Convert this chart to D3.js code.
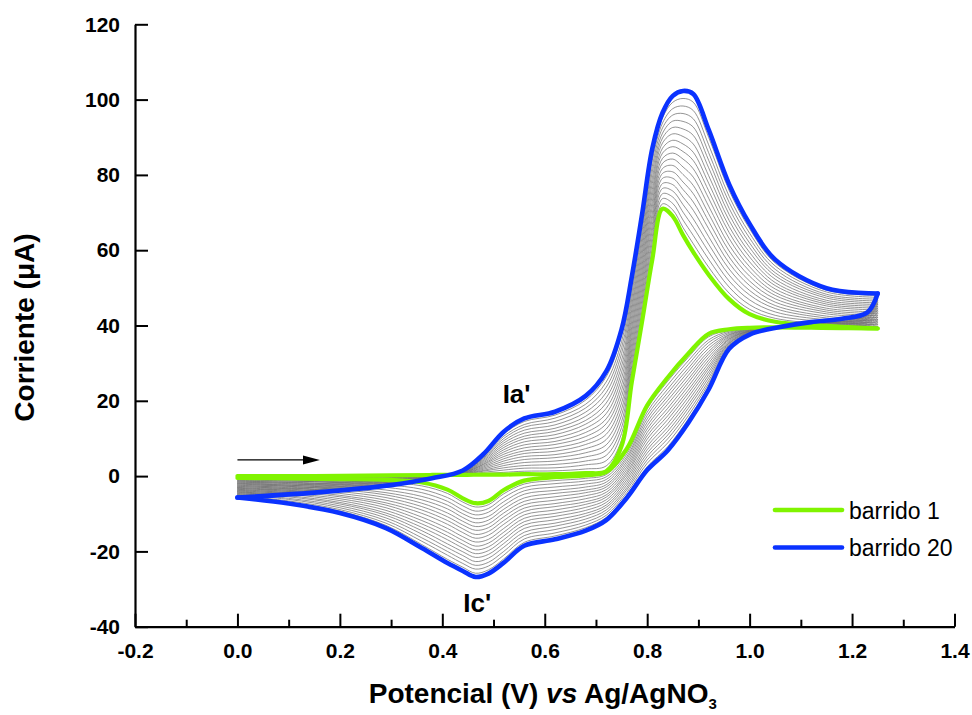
<!DOCTYPE html>
<html>
<head>
<meta charset="utf-8">
<script src="https://cdn.jsdelivr.net/npm/d3@7"></script>
<style>
  html, body { margin: 0; padding: 0; background: #ffffff; }
  svg { display: block; font-family: "Liberation Sans", Arial, Helvetica, sans-serif; }
</style>
</head>
<body>
<svg id="chart" width="972" height="715"></svg>
<script>
// Cyclic voltammetry, 20 consecutive sweeps (0 V -> 1.25 V -> 0 V).
// Potentials in V vs Ag/AgNO3, currents in µA.

// Forward scan potentials (anodic direction)
const forwardPotential = [0, 0.15, 0.3, 0.38, 0.44, 0.48, 0.52, 0.56, 0.62, 0.68, 0.72, 0.75, 0.77, 0.79, 0.81, 0.83, 0.85, 0.87, 0.89, 0.92, 0.96, 1.0, 1.05, 1.15, 1.25];

// Current at each forward potential, for sweeps 1 .. 20
const forwardCurrent = [
  [0, -0.3, -0.6, -0.9, -1.2, -1.5, -1.8, -2.1, -2.4, -2.7, -3.0, -3.3, -3.6, -3.9, -4.2, -4.5, -4.8, -5.1, -5.4, -5.7],
  [0, -0.2, -0.5, -0.7, -0.9, -1.2, -1.4, -1.6, -1.9, -2.1, -2.3, -2.5, -2.8, -3.0, -3.2, -3.5, -3.7, -3.9, -4.2, -4.4],
  [0.2, 0.1, -0.1, -0.2, -0.4, -0.5, -0.6, -0.8, -0.9, -1.0, -1.2, -1.3, -1.4, -1.6, -1.7, -1.9, -2.0, -2.1, -2.3, -2.4],
  [0.3, 0.3, 0.2, 0.2, 0.1, 0.1, 0, 0, -0.1, -0.1, -0.2, -0.2, -0.3, -0.3, -0.4, -0.4, -0.5, -0.5, -0.6, -0.6],
  [0.3, 0.4, 0.4, 0.5, 0.6, 0.6, 0.7, 0.7, 0.8, 0.9, 0.9, 1.0, 1.1, 1.1, 1.2, 1.2, 1.3, 1.4, 1.4, 1.5],
  [0.4, 0.7, 1.0, 1.3, 1.5, 1.8, 2.1, 2.4, 2.7, 3.0, 3.2, 3.5, 3.8, 4.1, 4.4, 4.7, 4.9, 5.2, 5.5, 5.8],
  [0.4, 1.0, 1.6, 2.2, 2.8, 3.4, 4.0, 4.6, 5.2, 5.8, 6.4, 7.0, 7.6, 8.2, 8.8, 9.4, 10.0, 10.6, 11.2, 11.8],
  [0.5, 1.3, 2.1, 2.8, 3.6, 4.4, 5.2, 6.0, 6.7, 7.5, 8.3, 9.1, 9.9, 10.6, 11.4, 12.2, 13.0, 13.7, 14.5, 15.3],
  [0.5, 1.4, 2.2, 3.1, 4.0, 4.9, 5.7, 6.6, 7.5, 8.4, 9.2, 10.1, 11.0, 11.9, 12.7, 13.6, 14.5, 15.4, 16.2, 17.1],
  [0.8, 1.9, 3.0, 4.0, 5.1, 6.2, 7.3, 8.4, 9.4, 10.5, 11.6, 12.7, 13.8, 14.8, 15.9, 17.0, 18.1, 19.1, 20.2, 21.3],
  [1.3, 2.7, 4.1, 5.5, 6.9, 8.3, 9.7, 11.1, 12.5, 13.9, 15.2, 16.6, 18.0, 19.4, 20.8, 22.2, 23.6, 25.0, 26.4, 27.8],
  [8.0, 9.6, 11.3, 12.9, 14.5, 16.2, 17.8, 19.4, 21.1, 22.7, 24.3, 26.0, 27.6, 29.2, 30.8, 32.5, 34.1, 35.7, 37.4, 39.0],
  [25.0, 26.5, 28.0, 29.4, 30.9, 32.4, 33.8, 35.3, 36.8, 38.3, 39.7, 41.2, 42.7, 44.2, 45.6, 47.1, 48.6, 50.1, 51.5, 53.0],
  [41.0, 42.5, 44.0, 45.5, 47.0, 48.5, 50.0, 51.5, 53.0, 54.5, 56.0, 57.5, 59.0, 60.5, 62.0, 63.5, 65.0, 66.5, 68.0, 69.5],
  [57.5, 59.1, 60.6, 62.2, 63.7, 65.3, 66.8, 68.4, 69.9, 71.5, 73.0, 74.6, 76.1, 77.7, 79.2, 80.8, 82.3, 83.9, 85.4, 87.0],
  [71.0, 72.3, 73.7, 75.0, 76.4, 77.7, 79.1, 80.4, 81.7, 83.1, 84.4, 85.8, 87.1, 88.5, 89.8, 91.1, 92.5, 93.8, 95.2, 96.5],
  [69.0, 70.7, 72.4, 74.1, 75.7, 77.4, 79.1, 80.8, 82.5, 84.2, 85.8, 87.5, 89.2, 90.9, 92.6, 94.3, 95.9, 97.6, 99.3, 101.0],
  [64.0, 66.0, 68.0, 70.1, 72.1, 74.1, 76.1, 78.1, 80.1, 82.1, 84.2, 86.2, 88.2, 90.2, 92.2, 94.2, 96.3, 98.3, 100.3, 102.3],
  [59.5, 61.7, 63.9, 66.1, 68.3, 70.6, 72.8, 75.0, 77.2, 79.4, 81.6, 83.8, 86.0, 88.2, 90.5, 92.7, 94.9, 97.1, 99.3, 101.5],
  [53.5, 55.5, 57.6, 59.6, 61.6, 63.6, 65.7, 67.7, 69.7, 71.7, 73.8, 75.8, 77.8, 79.8, 81.9, 83.9, 85.9, 88.0, 90.0, 92.0],
  [47.0, 48.6, 50.2, 51.8, 53.4, 55.0, 56.6, 58.2, 59.8, 61.4, 63.1, 64.7, 66.3, 67.9, 69.5, 71.1, 72.7, 74.3, 75.9, 77.5],
  [43.0, 44.3, 45.5, 46.8, 48.1, 49.3, 50.6, 51.8, 53.1, 54.4, 55.6, 56.9, 58.2, 59.4, 60.7, 61.9, 63.2, 64.5, 65.7, 67.0],
  [41.0, 41.9, 42.7, 43.6, 44.5, 45.3, 46.2, 47.1, 48.0, 48.8, 49.7, 50.6, 51.4, 52.3, 53.2, 54.0, 54.9, 55.8, 56.6, 57.5],
  [39.9, 40.4, 41.0, 41.5, 42.0, 42.5, 43.1, 43.6, 44.1, 44.6, 45.2, 45.7, 46.2, 46.7, 47.3, 47.8, 48.3, 48.9, 49.4, 49.9],
  [39.2, 39.7, 40.2, 40.7, 41.2, 41.6, 42.1, 42.6, 43.1, 43.6, 44.1, 44.6, 45.1, 45.6, 46.0, 46.5, 47.0, 47.5, 48.0, 48.5]
];

// Reverse scan potentials (cathodic direction, after the 1.25 V vertex)
const reversePotential = [1.23, 1.18, 1.12, 1.06, 1.0, 0.96, 0.92, 0.88, 0.84, 0.8, 0.76, 0.72, 0.68, 0.62, 0.56, 0.52, 0.49, 0.465, 0.44, 0.41, 0.36, 0.29, 0.2, 0.1, 0];

// Current at each reverse potential, for sweeps 1 .. 20
const reverseCurrent = [
  [39.2, 39.4, 39.7, 39.9, 40.1, 40.3, 40.6, 40.8, 41.0, 41.2, 41.5, 41.7, 41.9, 42.1, 42.4, 42.6, 42.8, 43.1, 43.3, 43.5],
  [39.3, 39.4, 39.6, 39.7, 39.8, 40.0, 40.1, 40.2, 40.4, 40.5, 40.6, 40.7, 40.9, 41.0, 41.1, 41.3, 41.4, 41.5, 41.7, 41.8],
  [39.4, 39.5, 39.6, 39.6, 39.7, 39.8, 39.9, 40.0, 40.0, 40.1, 40.2, 40.3, 40.4, 40.4, 40.5, 40.6, 40.7, 40.7, 40.8, 40.9],
  [39.5, 39.5, 39.5, 39.5, 39.5, 39.5, 39.5, 39.5, 39.5, 39.5, 39.6, 39.6, 39.6, 39.6, 39.6, 39.6, 39.6, 39.6, 39.6, 39.6],
  [39.4, 39.3, 39.2, 39.1, 39.0, 38.9, 38.8, 38.7, 38.6, 38.5, 38.5, 38.4, 38.3, 38.2, 38.1, 38.0, 37.9, 37.8, 37.7, 37.6],
  [39.0, 38.7, 38.5, 38.2, 37.9, 37.6, 37.4, 37.1, 36.8, 36.5, 36.3, 36.0, 35.7, 35.4, 35.2, 34.9, 34.6, 34.3, 34.1, 33.8],
  [37.8, 37.0, 36.2, 35.5, 34.7, 33.9, 33.1, 32.4, 31.6, 30.8, 30.0, 29.2, 28.5, 27.7, 26.9, 26.1, 25.3, 24.6, 23.8, 23.0],
  [32.5, 31.5, 30.6, 29.6, 28.6, 27.7, 26.7, 25.7, 24.8, 23.8, 22.8, 21.9, 20.9, 19.9, 18.9, 18.0, 17.0, 16.0, 15.1, 14.1],
  [26.2, 25.2, 24.2, 23.1, 22.1, 21.1, 20.1, 19.1, 18.0, 17.0, 16.0, 15.0, 13.9, 12.9, 11.9, 10.9, 9.9, 8.8, 7.8, 6.8],
  [18.8, 17.9, 17.0, 16.1, 15.2, 14.3, 13.4, 12.5, 11.6, 10.7, 9.8, 8.8, 7.9, 7.0, 6.1, 5.2, 4.3, 3.4, 2.5, 1.6],
  [7.2, 6.5, 5.8, 5.1, 4.5, 3.8, 3.1, 2.4, 1.7, 1.0, 0.4, -0.3, -1.0, -1.7, -2.4, -3.1, -3.7, -4.4, -5.1, -5.8],
  [1.1, 0.4, -0.2, -0.9, -1.6, -2.3, -2.9, -3.6, -4.3, -5.0, -5.6, -6.3, -7.0, -7.7, -8.3, -9.0, -9.7, -10.4, -11.0, -11.7],
  [0.2, -0.6, -1.3, -2.1, -2.9, -3.7, -4.4, -5.2, -6.0, -6.8, -7.5, -8.3, -9.1, -9.9, -10.6, -11.4, -12.2, -13.0, -13.7, -14.5],
  [-0.3, -1.2, -2.0, -2.9, -3.8, -4.6, -5.5, -6.4, -7.3, -8.1, -9.0, -9.9, -10.7, -11.6, -12.5, -13.3, -14.2, -15.1, -15.9, -16.8],
  [-1.2, -2.1, -3.0, -3.9, -4.8, -5.8, -6.7, -7.6, -8.5, -9.4, -10.3, -11.2, -12.1, -13.0, -13.9, -14.9, -15.8, -16.7, -17.6, -18.5],
  [-3.7, -4.7, -5.7, -6.8, -7.8, -8.8, -9.8, -10.8, -11.8, -12.8, -13.9, -14.9, -15.9, -16.9, -17.9, -18.9, -20.0, -21.0, -22.0, -23.0],
  [-6.6, -7.6, -8.6, -9.6, -10.7, -11.7, -12.7, -13.7, -14.7, -15.7, -16.8, -17.8, -18.8, -19.8, -20.8, -21.8, -22.9, -23.9, -24.9, -25.9],
  [-7.2, -8.2, -9.3, -10.3, -11.3, -12.4, -13.4, -14.4, -15.5, -16.5, -17.5, -18.6, -19.6, -20.6, -21.6, -22.7, -23.7, -24.7, -25.8, -26.8],
  [-5.9, -6.9, -7.9, -9.0, -10.0, -11.0, -12.0, -13.0, -14.0, -15.0, -16.1, -17.1, -18.1, -19.1, -20.1, -21.1, -22.2, -23.2, -24.2, -25.2],
  [-3.6, -4.6, -5.7, -6.7, -7.7, -8.7, -9.8, -10.8, -11.8, -12.8, -13.9, -14.9, -15.9, -16.9, -18.0, -19.0, -20.0, -21.0, -22.1, -23.1],
  [-1.7, -2.6, -3.5, -4.4, -5.4, -6.3, -7.2, -8.1, -9.0, -9.9, -10.9, -11.8, -12.7, -13.6, -14.5, -15.4, -16.4, -17.3, -18.2, -19.1],
  [-1.0, -1.7, -2.3, -3.0, -3.7, -4.4, -5.0, -5.7, -6.4, -7.1, -7.7, -8.4, -9.1, -9.8, -10.4, -11.1, -11.8, -12.5, -13.1, -13.8],
  [-0.8, -1.3, -1.7, -2.2, -2.7, -3.2, -3.6, -4.1, -4.6, -5.1, -5.5, -6.0, -6.5, -7.0, -7.4, -7.9, -8.4, -8.9, -9.3, -9.8],
  [-0.6, -1.0, -1.3, -1.7, -2.0, -2.4, -2.7, -3.1, -3.4, -3.8, -4.1, -4.5, -4.8, -5.2, -5.5, -5.9, -6.2, -6.6, -7.0, -7.3],
  [-0.5, -0.8, -1.0, -1.3, -1.6, -1.9, -2.1, -2.4, -2.7, -3.0, -3.2, -3.5, -3.8, -4.1, -4.3, -4.6, -4.9, -5.2, -5.4, -5.7]
];

// Axis ticks and labels
const xTickValues = [-0.2, 0.0, 0.2, 0.4, 0.6, 0.8, 1.0, 1.2, 1.4];
const xTickLabels = ["-0.2", "0.0", "0.2", "0.4", "0.6", "0.8", "1.0", "1.2", "1.4"];
const xMinorTicks = [-0.1, 0.1, 0.3, 0.5, 0.7, 0.9, 1.1, 1.3];
const yTickValues = [-40, -20, 0, 20, 40, 60, 80, 100, 120];
const yTickLabels = ["-40", "-20", "0", "20", "40", "60", "80", "100", "120"];

// Highlighted sweeps and legend
const legendLabels = ["barrido 1", "barrido 20"];
const legendColors = ["#80f400", "#0a32ff"];
const firstSweep = 0, lastSweep = 19;

const svg = d3.select("#chart");
svg.append("rect").attr("width", 972).attr("height", 715).attr("fill", "#ffffff");

const x = d3.scaleLinear().domain([-0.2, 1.4]).range([135, 954.5]);
const y = d3.scaleLinear().domain([-40, 120]).range([626.7, 24.3]);

const line = d3.line()
  .x(d => x(d[0]))
  .y(d => y(d[1]))
  .curve(d3.curveCatmullRom.alpha(0.5));

// Forward and reverse branches of one sweep; both ordered by increasing potential
function branches(s) {
  const fwd = forwardPotential.map((v, j) => [v, forwardCurrent[j][s]]);
  const vertex = [forwardPotential[forwardPotential.length - 1], forwardCurrent[forwardCurrent.length - 1][s]];
  const rev = [vertex].concat(reversePotential.map((v, j) => [v, reverseCurrent[j][s]])).reverse();
  return [fwd, rev];
}

function drawSweep(g, s, color, width) {
  branches(s).forEach(b => {
    g.append("path")
      .attr("d", line(b))
      .attr("fill", "none")
      .attr("stroke", color)
      .attr("stroke-width", width)
      .attr("stroke-linejoin", "round")
      .attr("stroke-linecap", "round");
  });
}

const plot = svg.append("g");

// intermediate sweeps 2..19
const grey = plot.append("g");
d3.range(1, 19).forEach(s => drawSweep(grey, s, "#707070", 0.75));
// first and last sweep on top
drawSweep(plot, firstSweep, legendColors[0], 4.2);
drawSweep(plot, lastSweep, legendColors[1], 4.6);

// Axes (ticks pointing inward)
svg.append("g")
  .attr("transform", `translate(0,${y(-40)})`)
  .call(d3.axisBottom(x).tickValues(xTickValues)
    .tickFormat((d, i) => xTickLabels[i])
    .tickSizeInner(-13).tickSizeOuter(0).tickPadding(16));
svg.append("g")
  .attr("transform", `translate(0,${y(-40)})`)
  .call(d3.axisBottom(x).tickValues(xMinorTicks).tickFormat("")
    .tickSizeInner(-7).tickSizeOuter(0))
  .call(g => g.select(".domain").remove());

svg.append("g")
  .attr("transform", `translate(${x(-0.2)},0)`)
  .call(d3.axisLeft(y).tickValues(yTickValues)
    .tickFormat((d, i) => yTickLabels[i])
    .tickSizeInner(-13).tickSizeOuter(0).tickPadding(15));

svg.selectAll(".domain").attr("stroke", "#000").attr("stroke-width", 2.2);
svg.selectAll(".tick line").attr("stroke", "#000").attr("stroke-width", 2);
svg.selectAll(".tick text")
  .attr("font-family", "'Liberation Sans', Arial, sans-serif")
  .attr("font-size", 21)
  .attr("font-weight", "bold")
  .attr("fill", "#000");

// Axis titles
svg.append("text")
  .attr("transform", `translate(34,${(y(-40) + y(120)) / 2 + 2}) rotate(-90)`)
  .attr("text-anchor", "middle")
  .attr("font-size", 28)
  .attr("font-weight", "bold")
  .text("Corriente (\u03BCA)");

const xt = svg.append("text")
  .attr("x", (x(-0.2) + x(1.4)) / 2 - 2)
  .attr("y", 703)
  .attr("text-anchor", "middle")
  .attr("font-size", 28)
  .attr("font-weight", "bold");
xt.append("tspan").text("Potencial (V) ");
xt.append("tspan").attr("font-style", "italic").text("vs");
xt.append("tspan").text(" Ag/AgNO");
xt.append("tspan").attr("font-size", 15).attr("dy", 6).text("3");

// Peak labels
svg.append("text").attr("x", x(0.545)).attr("y", y(19.4))
  .attr("text-anchor", "middle").attr("font-size", 26).attr("font-weight", "bold")
  .text("Ia'");
svg.append("text").attr("x", x(0.468)).attr("y", y(-36.1))
  .attr("text-anchor", "middle").attr("font-size", 26).attr("font-weight", "bold")
  .text("Ic'");

// Scan direction arrow
const ay = y(4.3);
svg.append("line")
  .attr("x1", x(0.0)).attr("x2", x(0.135))
  .attr("y1", ay).attr("y2", ay)
  .attr("stroke", "#000").attr("stroke-width", 1.3);
svg.append("path")
  .attr("d", `M${x(0.161)},${ay} L${x(0.128)},${ay - 4.5} L${x(0.128)},${ay + 4.5} Z`)
  .attr("fill", "#000");

// Legend
const legend = svg.append("g");
legendLabels.forEach((lab, i) => {
  const ly = 510 + i * 37.5;
  legend.append("line")
    .attr("x1", 775).attr("x2", 842)
    .attr("y1", ly).attr("y2", ly)
    .attr("stroke", legendColors[i]).attr("stroke-width", 4.6)
    .attr("stroke-linecap", "round");
  legend.append("text")
    .attr("x", 849).attr("y", ly + 8.5)
    .attr("font-size", 23)
    .text(lab);
});
</script>
</body>
</html>
